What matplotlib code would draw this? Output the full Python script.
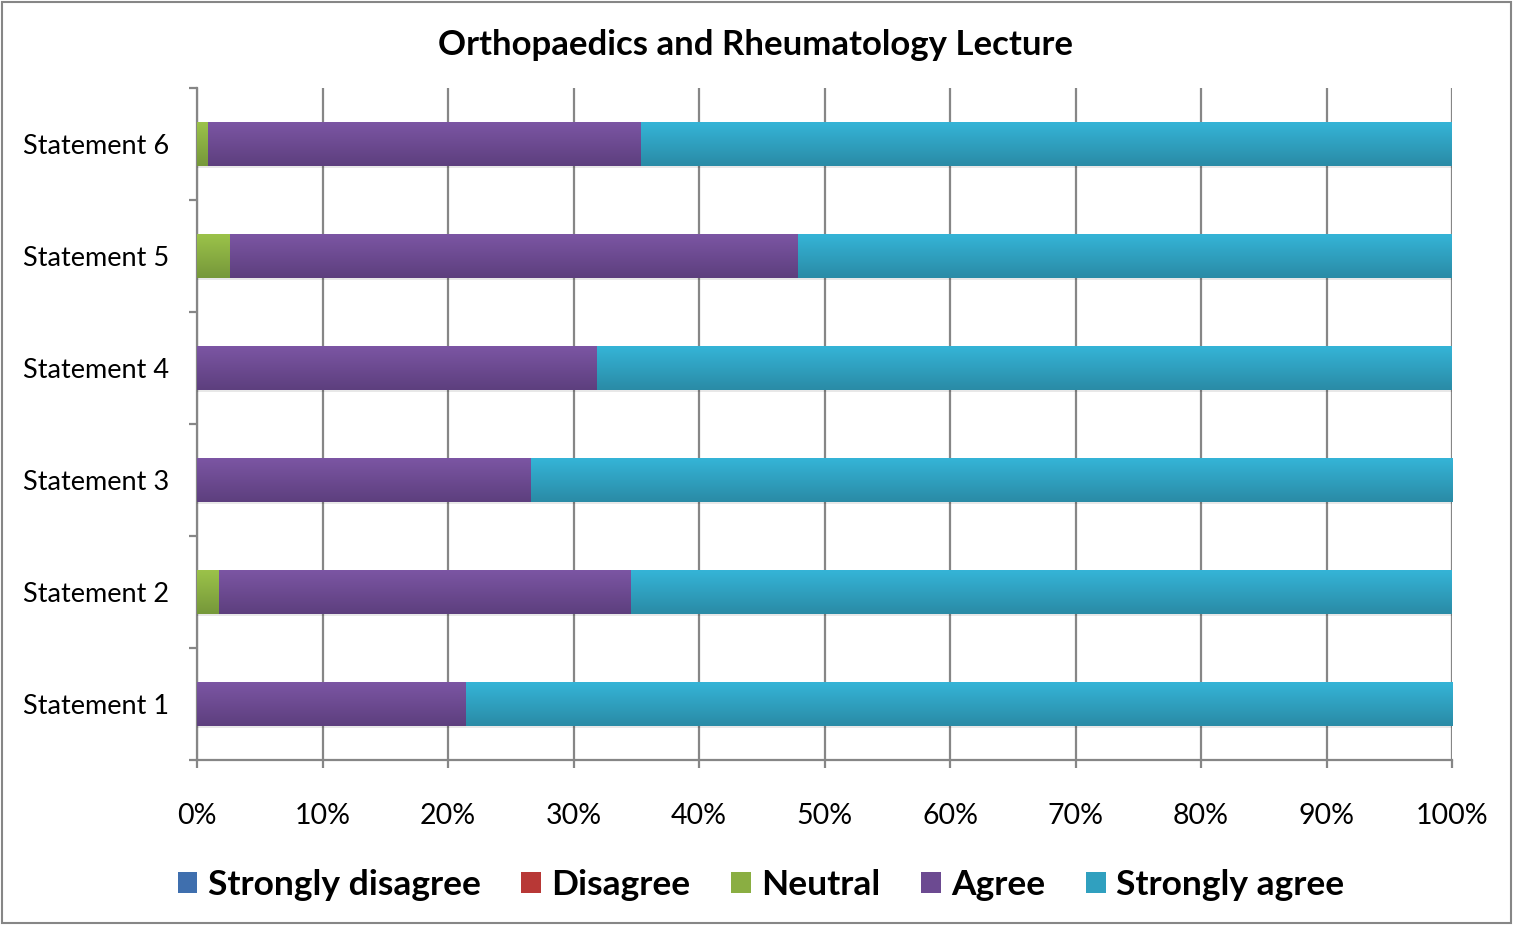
import matplotlib
matplotlib.use("Agg")
import matplotlib.pyplot as plt
import numpy as np
from matplotlib.patches import Patch, Rectangle
import matplotlib.patheffects as pe
import matplotlib.colors as mcolors

plt.rcParams['font.family'] = ['Lato', 'DejaVu Sans']

categories = ["Statement 1", "Statement 2", "Statement 3", "Statement 4", "Statement 5", "Statement 6"]
series_names = ["Strongly disagree", "Disagree", "Neutral", "Agree", "Strongly agree"]
strongly_disagree = [0.0, 0.0, 0.0, 0.0, 0.0, 0.0]
disagree = [0.0, 0.0, 0.0, 0.0, 0.0, 0.0]
neutral = [0.0, 1.75, 0.0, 0.0, 2.6, 0.9]
agree = [21.4, 32.85, 26.6, 31.9, 45.3, 34.5]
strongly_agree = [78.6, 65.4, 73.4, 68.1, 52.1, 64.6]
x_ticks = [0, 10, 20, 30, 40, 50, 60, 70, 80, 90, 100]
x_tick_labels = ["0%", "10%", "20%", "30%", "40%", "50%", "60%", "70%", "80%", "90%", "100%"]

top_colors = ["#4a7fc4", "#d04040", "#9cc34a", "#7c56a4", "#35b5d8"]
bot_colors = ["#335f96", "#9c2e2d", "#76983a", "#5d3f7e", "#2a8ba6"]
mid_colors = ["#3f6fae", "#b83836", "#8aae42", "#6c4a91", "#30a0bf"]

fig = plt.figure(figsize=(15.13, 9.25), dpi=100)
ax = fig.add_axes([197/1513, (925-760)/925, (1452-197)/1513, (760-88)/925])

data = [strongly_disagree, disagree, neutral, agree, strongly_agree]
y = np.arange(len(categories))
left = np.zeros(len(categories))
for i, vals in enumerate(data):
    vals = np.array(vals)
    bars = ax.barh(y, vals, left=left, height=0.4, color=mid_colors[i], zorder=3,
                   linewidth=0)
    for b in bars:
        if b.get_width() <= 0:
            b.set_visible(False)
            continue
        b.set_path_effects([pe.SimplePatchShadow(offset=(0, -1.5), shadow_rgbFace='#000000', alpha=0.09), pe.Normal()])
        cmap = mcolors.LinearSegmentedColormap.from_list("g", [bot_colors[i], top_colors[i]])
        x0, y0 = b.get_x(), b.get_y()
        w, h = b.get_width(), b.get_height()
        grad = np.linspace(0, 1, 64).reshape(-1, 1)
        im = ax.imshow(grad, extent=[x0, x0 + w, y0, y0 + h], origin='lower', cmap=cmap,
                       aspect='auto', zorder=3.5, interpolation='bilinear')
        im.set_clip_path(b)
    left = left + vals

ax.set_xlim(0, 100)
ax.set_ylim(-0.5, len(categories) - 0.5)

ax.set_xticks(x_ticks)
ax.set_xticklabels(x_tick_labels)
ax.set_yticks(y)
ax.set_yticklabels(categories, va='center_baseline')
ax.set_yticks(np.arange(-0.5, len(categories), 1.0), minor=True)

gc = "#868686"
ax.grid(axis='x', color=gc, linewidth=1.6, zorder=0)
ax.set_axisbelow(True)
for s in ['top', 'right']:
    ax.spines[s].set_visible(False)
for s in ['left', 'bottom']:
    ax.spines[s].set_color(gc)
    ax.spines[s].set_linewidth(1.6)

ax.tick_params(axis='y', which='major', length=0, pad=20, labelsize=19.5, colors='black')
ax.tick_params(axis='y', which='minor', length=6, width=1.6, color=gc)
ax.tick_params(axis='x', which='major', length=6, width=1.6, color=gc, pad=25, labelsize=20.5, labelcolor='black')

fig.text(0.4995, 1 - 45/925, "Orthopaedics and Rheumatology Lecture", ha='center', va='center',
         fontsize=25, fontweight='bold')

handles = [Patch(facecolor=mid_colors[i], edgecolor='none') for i in range(5)]
fig.legend(handles, series_names, loc='center', bbox_to_anchor=(0.503, 1 - 885/925), ncol=5,
           frameon=False, prop={'size': 25.5, 'weight': 'bold'}, handlelength=0.55, handleheight=0.55,
           handletextpad=0.3, columnspacing=1.15)

fig.patches.append(Rectangle((0.0015, 0.002), 0.997, 0.996, transform=fig.transFigure,
                             fill=False, edgecolor=gc, linewidth=1.5))

fig.savefig("out.png", dpi=100)
